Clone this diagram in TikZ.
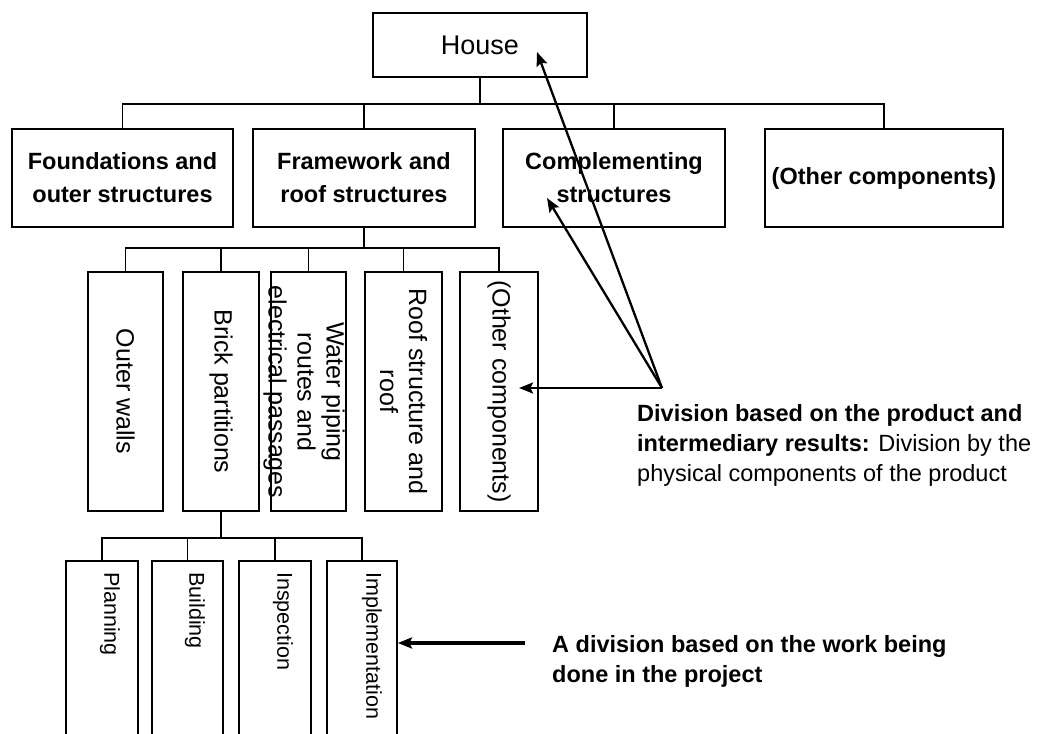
\documentclass[tikz,border=0pt]{standalone}
\usepackage{fontspec}
\setmainfont{Liberation Sans}
\usetikzlibrary{arrows.meta}
\begin{document}
\begin{tikzpicture}[x=1pt,y=-1pt,
  box/.style={draw=black, line width=1.8pt, rectangle, inner sep=0pt},
  link/.style={draw=black, line width=1.6pt},
  pointer/.style={draw=black, line width=2.3pt, -{Stealth[length=14pt,width=11pt,inset=2.5pt]}},
  tophead/.style={font=\fontsize{27}{32}\selectfont},
  l1text/.style={font=\bfseries\fontsize{23.5}{33}\selectfont, align=center},
  l2text/.style={font=\fontsize{25}{29}\selectfont, align=center, rotate=-90, inner sep=0pt},
  l3text/.style={font=\fontsize{21.5}{26}\selectfont, rotate=-90, inner sep=0pt, anchor=west},
  note/.style={font=\fontsize{23.5}{30}\selectfont, align=left, inner sep=0pt, anchor=north west},
]
\useasboundingbox (0,0) rectangle (1037,734);
\clip (0,0) rectangle (1037,734);
\fill[white] (0,0) rectangle (1037,734);

% root
\node[box, minimum width=214pt, minimum height=64pt, tophead] (house) at (480,45) {House};

% first level
\node[box, minimum width=221pt, minimum height=98pt, l1text] (found) at (122.5,178) {Foundations and\\outer structures};
\node[box, minimum width=222pt, minimum height=98pt, l1text] (frame) at (364,178) {Framework and\\roof structures};
\node[box, minimum width=222pt, minimum height=98pt, l1text] (compl) at (614,178) {Complementing\\structures};
\node[box, minimum width=238pt, minimum height=98pt, l1text] (other) at (884,178) {(Other components)};

% second level (under the framework)
\node[box, minimum width=75pt, minimum height=239pt] (ow) at (125.5,391.5) {};
\node[box, minimum width=76pt, minimum height=239pt] (bp) at (221,391.5) {};
\node[box, minimum width=75pt, minimum height=239pt] (wp) at (308.5,391.5) {};
\node[box, minimum width=77pt, minimum height=239pt] (rs) at (403.5,391.5) {};
\node[box, minimum width=78pt, minimum height=239pt] (oc) at (499,391.5) {};
\node[l2text] (ow-t) at (ow.center) {Outer walls};
\node[l2text] (bp-t) at (bp.center) {Brick partitions};
\node[l2text] (wp-t) at (304,392) {Water piping\\routes and\\electrical passages};
\node[l2text] (rs-t) at (rs.center) {Roof structure and\\roof};
\node[l2text] (oc-t) at (oc.center) {(Other components)};

% third level (under the brick partitions)
\node[box, minimum width=72pt, minimum height=199pt] (plan) at (102,660.5) {};
\node[box, minimum width=71pt, minimum height=199pt] (build) at (187.5,660.5) {};
\node[box, minimum width=72pt, minimum height=199pt] (insp) at (275,660.5) {};
\node[box, minimum width=70pt, minimum height=199pt] (impl) at (362,660.5) {};
\node[l3text] (plan-t) at (110,572) {Planning};
\node[l3text] (build-t) at (195,572) {Building};
\node[l3text] (insp-t) at (283,572) {Inspection};
\node[l3text] (impl-t) at (372,572) {Implementation};

% tree connectors
\path (house.south) ++(0,26) coordinate (hub1);
\draw[link] (house.south) -- (hub1);
\draw[link] (found.north) -- (found.north |- hub1) -- (other.north |- hub1) -- (other.north);
\draw[link] (frame.north) -- (frame.north |- hub1);
\draw[link] (compl.north) -- (compl.north |- hub1);

\path (frame.south) ++(0,20) coordinate (hub2);
\draw[link] (frame.south) -- (hub2);
\draw[link] (ow.north) -- (ow.north |- hub2) -- (oc.north |- hub2) -- (oc.north);
\draw[link] (bp.north) -- (bp.north |- hub2);
\draw[link] (wp.north) -- (wp.north |- hub2);
\draw[link] (rs.north) -- (rs.north |- hub2);

\path (bp.south) ++(0,26) coordinate (hub3);
\draw[link] (bp.south) -- (hub3);
\draw[link] (plan.north) -- (plan.north |- hub3) -- (impl.north |- hub3) -- (impl.north);
\draw[link] (build.north) -- (build.north |- hub3);
\draw[link] (insp.north) -- (insp.north |- hub3);

% explanatory notes
\node[note] (prodnote) at (637,404) {\textbf{Division based on the product and}\\\textbf{intermediary results:} Division by the\\physical components of the product};
\node[note] (worknote) at (552,635) {\textbf{A division based on the work being}\\\textbf{done in the project}};

% pointers
\coordinate (conv) at (662,388);
\coordinate (househit) at (537,52);
\coordinate (complhit) at (547,198);
\coordinate (ochit) at (519,388);
\draw[pointer] (conv) -- (househit);
\draw[pointer] (conv) -- (complhit);
\draw[pointer] (conv) -- (ochit);
\coordinate (workstart) at (525,643);
\draw[pointer, line width=3.4pt] (workstart) -- (impl.east |- workstart);
\end{tikzpicture}
\end{document}
